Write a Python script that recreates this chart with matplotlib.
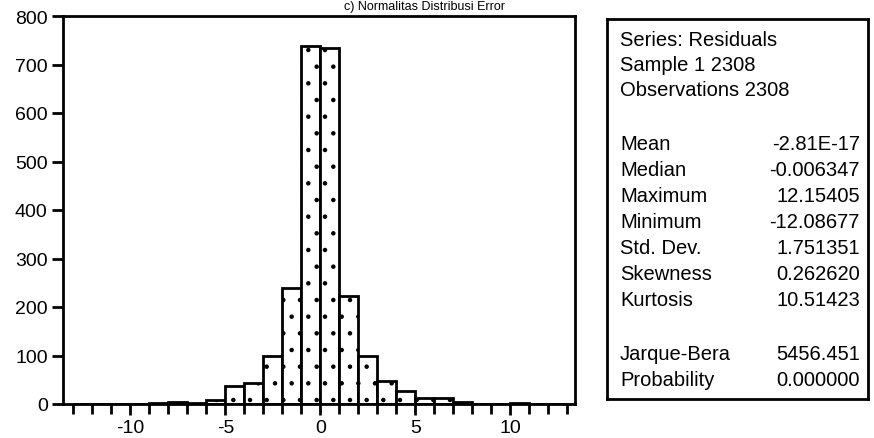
import numpy as np
import matplotlib
matplotlib.use("Agg")
import matplotlib.pyplot as plt
from matplotlib.ticker import MultipleLocator

# histogram of residuals, bins of width 1
bin_left = list(range(-13, 13))
counts = [1, 0, 0, 1, 3, 5, 2, 8, 38, 43, 100, 240, 738,
          733, 222, 98, 48, 26, 12, 12, 5, 1, 1, 2, 0, 1]

header = ["Series: Residuals", "Sample 1 2308", "Observations 2308"]
stat_names = ["Mean", "Median", "Maximum", "Minimum", "Std. Dev.",
              "Skewness", "Kurtosis"]
stat_values = ["-2.81E-17", "-0.006347", "12.15405", "-12.08677",
               "1.751351", "0.262620", "10.51423"]
test_names = ["Jarque-Bera", "Probability"]
test_values = ["5456.451", "0.000000"]

plt.rcParams["font.family"] = ["Liberation Sans", "DejaVu Sans"]
plt.rcParams["hatch.linewidth"] = 0.8
plt.rcParams["axes.unicode_minus"] = False

W, H = 874, 439
fig = plt.figure(figsize=(W / 100, H / 100), dpi=100)

ax = fig.add_axes([63 / W, 1 - 405 / H, (575 - 63) / W, (405 - 17) / H])
ax.bar(bin_left, counts, width=1, align="edge", facecolor="white",
       edgecolor="black", linewidth=2, hatch=".")
ax.set_xlim(-13.55, 13.4)
ax.set_ylim(0, 800)
ax.xaxis.set_major_locator(MultipleLocator(5))
ax.xaxis.set_minor_locator(MultipleLocator(1))
ax.yaxis.set_major_locator(MultipleLocator(100))
ax.tick_params(axis="both", which="major", direction="out", length=8,
               width=2, labelsize=14, pad=3)
ax.tick_params(axis="x", which="minor", direction="out", length=7, width=2)
for s in ax.spines.values():
    s.set_linewidth(2)

# title squeezed into the strip above the plot
fig.text(0.486, 1 - 1 / H, "c) Normalitas Distribusi Error", ha="center",
         va="top", fontsize=9)

# statistics box
bx = fig.add_axes([607 / W, 1 - 400 / H, (868 - 607) / W, (400 - 20) / H])
bx.set_xticks([])
bx.set_yticks([])
for s in bx.spines.values():
    s.set_linewidth(2)
bx.set_xlim(0, 261)
bx.set_ylim(400, 20)

fs = 14.5
for i, t in enumerate(header):
    bx.text(13, 40 + i * 25.5, t, fontsize=fs, va="center", ha="left")
for i, (n, v) in enumerate(zip(stat_names, stat_values)):
    y = 145 + i * 26
    bx.text(13, y, n, fontsize=fs, va="center", ha="left")
    bx.text(253, y, v, fontsize=fs, va="center", ha="right")
for i, (n, v) in enumerate(zip(test_names, test_values)):
    y = 355 + i * 26
    bx.text(13, y, n, fontsize=fs, va="center", ha="left")
    bx.text(253, y, v, fontsize=fs, va="center", ha="right")

fig.savefig("out.png", dpi=100)
